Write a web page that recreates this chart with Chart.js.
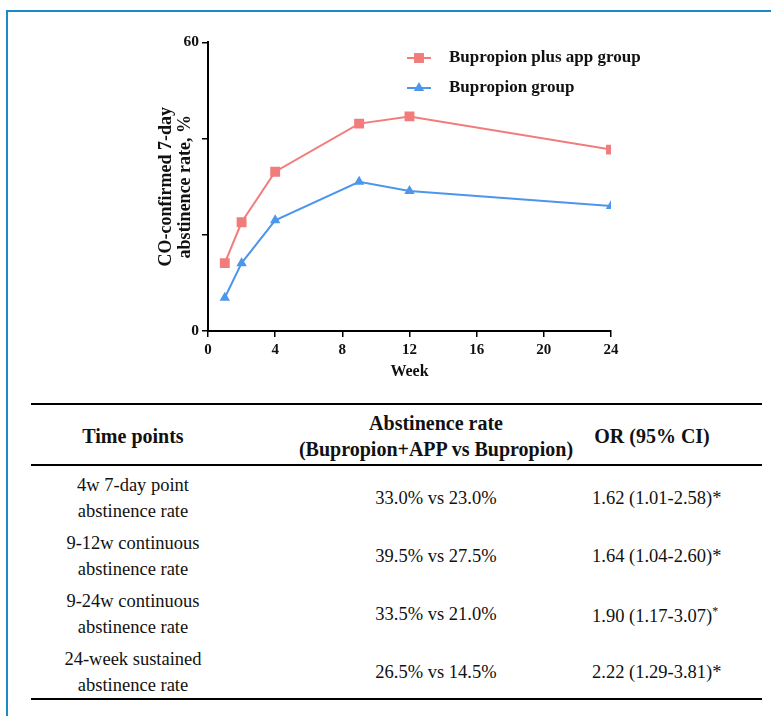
<!DOCTYPE html>
<html>
<head>
<meta charset="utf-8">
<script src="https://cdn.jsdelivr.net/npm/chart.js@4"></script>
<style>
  html, body { margin: 0; padding: 0; background: #fff; }
  body { width: 771px; height: 716px; position: relative; overflow: hidden; font-family: "Liberation Serif", "Times New Roman", serif; }
  #frame { position: absolute; left: 6px; top: 10px; right: -10px; bottom: -10px; border-left: 2px solid #1a8bc8; border-top: 2px solid #1a8bc8; }
  #chartBox { position: absolute; left: 140px; top: 30px; width: 520px; height: 360px; }
  table { position: absolute; left: 31px; top: 403px; width: 731px; border-collapse: collapse; table-layout: fixed; color: #111; font-size: 18.5px; }
  th, td { text-align: center; padding: 0; line-height: 26px; white-space: nowrap; }
  thead tr { border-top: 2px solid #000; border-bottom: 2px solid #000; height: 61px; }
  thead th { font-weight: bold; font-size: 20px; padding-top: 3px; }
  tbody tr { height: 58px; }
  tbody td { padding-top: 6px; }
  tbody tr:last-child { border-bottom: 2px solid #000; }
  .c1 { padding-right: 45px; }
  .c3 { padding-right: 50px; }
  sup { font-size: 12px; }
</style>
</head>
<body>
<div id="frame"></div>
<div id="chartBox"><canvas id="abstChart" width="520" height="360"></canvas></div>
<table>
  <colgroup><col style="width:249px"><col style="width:312px"><col style="width:170px"></colgroup>
  <thead>
    <tr><th class="c1">Time points</th><th>Abstinence rate<br>(Bupropion+APP vs Bupropion)</th><th class="c3">OR (95% CI)</th></tr>
  </thead>
  <tbody id="tableBody"></tbody>
</table>
<script>
// chart data
const weeks = [1, 2, 4, 9, 12, 24];
const appGroup = [14.1, 22.6, 33.1, 43.1, 44.6, 37.7];
const bupGroup = [6.9, 14.1, 23.0, 31.0, 29.1, 26.0];
const seriesLabels = ['Bupropion plus app group', 'Bupropion group'];
const xTicks = [0, 4, 8, 12, 16, 20, 24];
const yLabelled = [0, 60];

// table data
const timePoints = [
    ['4w 7-day point', 'abstinence rate'],
    ['9-12w continuous', 'abstinence rate'],
    ['9-24w continuous', 'abstinence rate'],
    ['24-week sustained', 'abstinence rate']
];
const rates = ['33.0% vs 23.0%', '39.5% vs 27.5%', '33.5% vs 21.0%', '26.5% vs 14.5%'];
const oddsRatios = ['1.62 (1.01-2.58)', '1.64 (1.04-2.60)', '1.90 (1.17-3.07)', '2.22 (1.29-3.81)'];
const starRaised = [false, false, true, false];

const RED = 'rgb(242,124,124)';
const BLUE = 'rgb(76,150,236)';
const serif = '"Liberation Serif", "Times New Roman", serif';

let tbody = document.getElementById('tableBody');
timePoints.forEach((tp, i) => {
    let tr = document.createElement('tr');
    let star = starRaised[i] ? '<sup>*</sup>' : '*';
    tr.innerHTML = '<td class="c1">' + tp.join('<br>') + '</td><td>' + rates[i] + '</td><td class="c3">' + oddsRatios[i] + star + '</td>';
    tbody.appendChild(tr);
});

// legend drawn inside the plot, top right
const insideLegend = {
    id: 'insideLegend',
    afterDatasetsDraw(chart) {
        const ctx = chart.ctx;
        const x0 = 407 - 140, rows = [58 - 30, 88 - 30];
        chart.data.datasets.forEach((ds, i) => {
            const y = rows[i];
            ctx.save();
            ctx.strokeStyle = ds.borderColor;
            ctx.lineWidth = 2;
            ctx.beginPath();
            ctx.moveTo(x0, y);
            ctx.lineTo(x0 + 24, y);
            ctx.stroke();
            ctx.fillStyle = ds.borderColor;
            Chart.helpers.drawPoint(ctx, {pointStyle: ds.pointStyle, radius: ds.pointRadius, borderWidth: 0}, x0 + 12, y);
            ctx.fillStyle = '#111';
            ctx.font = 'bold 17px ' + serif;
            ctx.textBaseline = 'middle';
            ctx.fillText(ds.label, x0 + 42, y);
            ctx.restore();
        });
    }
};

const ctx = document.getElementById('abstChart').getContext('2d');
new Chart(ctx, {
    type: 'line',
    data: {
        datasets: [{
            label: seriesLabels[0],
            data: weeks.map((w, i) => ({x: w, y: appGroup[i]})),
            borderColor: RED,
            backgroundColor: RED,
            borderWidth: 2,
            pointStyle: 'rect',
            pointRadius: 7,
            pointBorderWidth: 0
        }, {
            label: seriesLabels[1],
            data: weeks.map((w, i) => ({x: w, y: bupGroup[i]})),
            borderColor: BLUE,
            backgroundColor: BLUE,
            borderWidth: 2,
            pointStyle: 'triangle',
            pointRadius: 6,
            pointBorderWidth: 0
        }]
    },
    options: {
        responsive: false,
        animation: false,
        layout: { padding: { top: 11, right: 49, left: 0, bottom: 0 } },
        plugins: { legend: { display: false }, tooltip: { enabled: false } },
        scales: {
            x: {
                type: 'linear',
                min: 0, max: 24,
                afterBuildTicks: s => { s.ticks = xTicks.map(v => ({value: v})); },
                afterFit: s => { s.height = 59; },
                grid: { drawOnChartArea: false, color: '#000', lineWidth: 1.5, tickLength: 6 },
                border: { color: '#000', width: 2 },
                ticks: { color: '#111', padding: 4, maxRotation: 0, font: { family: serif, size: 15, weight: 'bold' } },
                title: { display: true, text: 'Week', color: '#111', padding: { top: 0, bottom: 9 }, font: { family: serif, size: 16, weight: 'bold' } }
            },
            y: {
                min: 0, max: 60,
                afterFit: s => { s.width = 68; },
                grid: { drawOnChartArea: false, color: '#000', lineWidth: 1.5, tickLength: 6 },
                border: { color: '#000', width: 2 },
                ticks: {
                    stepSize: 20, color: '#111', padding: 3,
                    font: { family: serif, size: 15.5, weight: 'bold' },
                    callback: v => yLabelled.includes(v) ? v : ''
                },
                title: {
                    display: true,
                    text: ['CO-confirmed 7-day', 'abstinence rate, %'],
                    color: '#111',
                    padding: { top: 17, bottom: 0 },
                    font: { family: serif, size: 18, weight: 'bold', lineHeight: 1.05 }
                }
            }
        }
    },
    plugins: [insideLegend]
});
</script>
</body>
</html>
